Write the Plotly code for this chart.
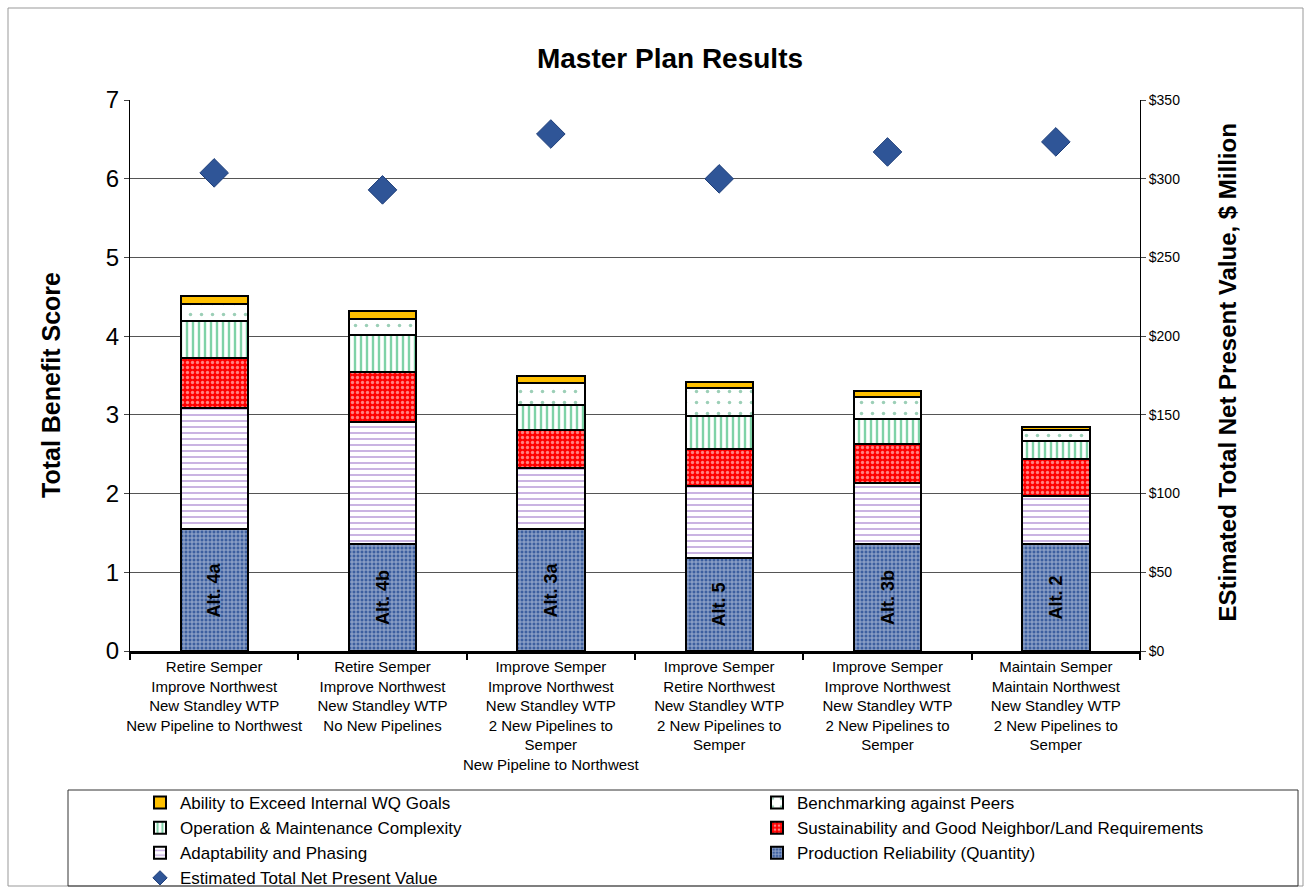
import plotly.graph_objects as go

categories = [
    "Retire Semper<br>Improve Northwest<br>New Standley WTP<br>New Pipeline to Northwest",
    "Retire Semper<br>Improve Northwest<br>New Standley WTP<br>No New Pipelines",
    "Improve Semper<br>Improve Northwest<br>New Standley WTP<br>2 New Pipelines to<br>Semper<br>New Pipeline to Northwest",
    "Improve Semper<br>Retire Northwest<br>New Standley WTP<br>2 New Pipelines to<br>Semper",
    "Improve Semper<br>Improve Northwest<br>New Standley WTP<br>2 New Pipelines to<br>Semper",
    "Maintain Semper<br>Maintain Northwest<br>New Standley WTP<br>2 New Pipelines to<br>Semper",
]
alt_labels = ["Alt. 4a", "Alt. 4b", "Alt. 3a", "Alt. 5", "Alt. 3b", "Alt. 2"]

production = [1.55, 1.36, 1.55, 1.18, 1.36, 1.36]
adaptability = [1.54, 1.55, 0.77, 0.92, 0.77, 0.61]
sustainability = [0.63, 0.63, 0.49, 0.47, 0.50, 0.47]
om_complexity = [0.47, 0.47, 0.32, 0.42, 0.32, 0.23]
benchmarking = [0.22, 0.21, 0.28, 0.35, 0.28, 0.14]
wq_goals = [0.10, 0.10, 0.08, 0.08, 0.07, 0.03]
npv = [303.7, 292.9, 328.4, 299.9, 317.0, 323.4]

FONT = "Liberation Sans, Arial"
NPV_COLOR = "#2f5597"

fig = go.Figure()
line = dict(color="black", width=2)

fig.add_bar(x=categories, y=production, name="Production Reliability (Quantity)", legend="legend2", legendrank=3,
            marker=dict(color="#3d5f9f", line=line,
                        pattern=dict(shape="+", fgcolor="#ffffff", bgcolor="#3d5f9f", size=4, solidity=0.45)),
            text=["<b>%s</b>" % a for a in alt_labels], textposition="inside", insidetextanchor="middle",
            textangle=-90, textfont=dict(family="Liberation Sans, Arial", size=18, color="black"),
            hoverinfo="skip")
fig.add_bar(x=categories, y=adaptability, name="Adaptability and Phasing", legend="legend", legendrank=3,
            marker=dict(color="#ffffff", line=line,
                        pattern=dict(shape="-", fgcolor="#8a58c0", bgcolor="#ffffff", size=6, solidity=0.3)))
fig.add_bar(x=categories, y=sustainability, name="Sustainability and Good Neighbor/Land Requirements",
            legend="legend2", legendrank=2,
            marker=dict(color="#ff0000", line=line,
                        pattern=dict(shape=".", fgcolor="#ffffff", bgcolor="#ff0000", size=5, solidity=0.35)))
fig.add_bar(x=categories, y=om_complexity, name="Operation & Maintenance Complexity", legend="legend", legendrank=2,
            marker=dict(color="#ffffff", line=line,
                        pattern=dict(shape="|", fgcolor="#00a550", bgcolor="#ffffff", size=6, solidity=0.4)))
fig.add_bar(x=categories, y=benchmarking, name="Benchmarking against Peers", legend="legend2", legendrank=1,
            marker=dict(color="#ffffff", line=line,
                        pattern=dict(shape=".", fgcolor="#3aa070", bgcolor="#ffffff", size=11, solidity=0.08)))
fig.add_bar(x=categories, y=wq_goals, name="Ability to Exceed Internal WQ Goals", legend="legend", legendrank=1,
            marker=dict(color="#ffc000", line=line))
fig.add_scatter(x=categories, y=npv, name="Estimated Total Net Present Value", showlegend=False,
                yaxis="y2", mode="markers",
                marker=dict(symbol="diamond", size=22, color=NPV_COLOR, line=dict(color="#1f3f7a", width=1)))
# legend entry with a smaller diamond, as in the reference legend
fig.add_scatter(x=[None], y=[None], name="Estimated Total Net Present Value", legend="legend", legendrank=4,
                yaxis="y2", mode="markers",
                marker=dict(symbol="diamond", size=11, color=NPV_COLOR, line=dict(color="#1f3f7a", width=1)))

leg_common = dict(orientation="v", yanchor="top", font=dict(size=17, family=FONT),
                  bgcolor="rgba(0,0,0,0)", traceorder="normal", tracegroupgap=0, itemwidth=30)

fig.update_layout(
    barmode="stack", bargap=0.6,
    width=1305, height=888,
    margin=dict(l=130, r=165, t=100, b=237, autoexpand=False),
    paper_bgcolor="white", plot_bgcolor="white",
    font=dict(family=FONT, color="black"),
    uniformtext=dict(minsize=18, mode="show"),
    title=dict(text="<b>Master Plan Results</b>", x=670 / 1305, xanchor="center",
               y=1 - 58 / 888, yanchor="middle", font=dict(size=28, family=FONT)),
    xaxis=dict(showline=True, linecolor="black", linewidth=3, ticks="outside", tickson="boundaries",
               ticklen=6, tickwidth=2, tickcolor="black", tickfont=dict(size=15, family=FONT),
               tickangle=0, mirror=False),
    yaxis=dict(range=[0, 7], dtick=1, showline=True, linecolor="black", linewidth=1,
               showgrid=True, gridcolor="#555555", gridwidth=1, tickfont=dict(size=24, family=FONT),
               ticks="outside", ticklen=5, zeroline=False),
    yaxis2=dict(range=[0, 350], dtick=50, overlaying="y", side="right", showline=True,
                linecolor="black", linewidth=1, showgrid=False, tickprefix="$",
                tickfont=dict(size=14, family=FONT), ticks="outside", ticklen=5, zeroline=False),
    legend=dict(x=(140 - 130) / 1010, xanchor="left", y=(651 - 785) / 551, **leg_common),
    legend2=dict(x=(757 - 130) / 1010, xanchor="left", y=(651 - 785) / 551, **leg_common),
    showlegend=True,
)

# outer chart border and legend box
fig.add_shape(type="rect", xref="paper", yref="paper", x0=(8 - 130) / 1010, x1=(1303 - 130) / 1010,
              y0=(651 - 886) / 551, y1=(651 - 8) / 551, line=dict(color="#999999", width=1))
fig.add_shape(type="rect", xref="paper", yref="paper", x0=(68 - 130) / 1010, x1=(1298 - 130) / 1010,
              y0=(651 - 886) / 551, y1=(651 - 790) / 551, line=dict(color="#333333", width=1))

fig.add_annotation(text="<b>Total Benefit Score</b>", xref="paper", yref="paper",
                   x=(35 - 130) / 1010, y=(651 - 385) / 551, textangle=-90, showarrow=False,
                   font=dict(size=25, family=FONT))
fig.add_annotation(text="<b>EStimated Total Net Present Value, $ Million</b>", xref="paper", yref="paper",
                   x=(1242 - 130) / 1010, y=(651 - 373) / 551, textangle=-90, showarrow=False,
                   font=dict(size=24, family=FONT))

fig.write_html("out.html")
